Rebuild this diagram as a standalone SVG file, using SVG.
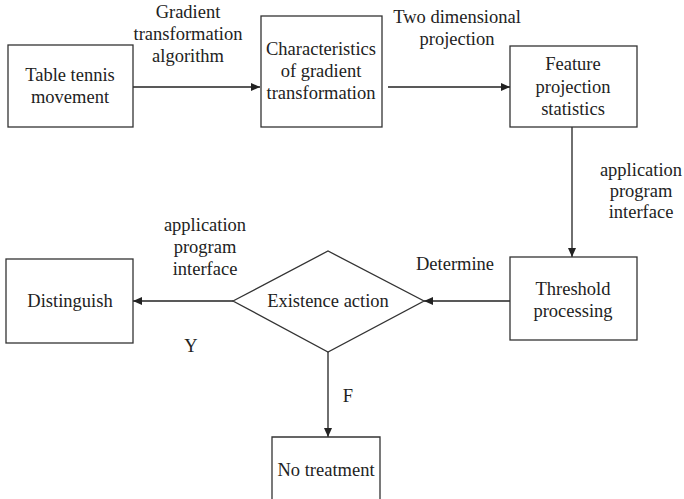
<svg xmlns="http://www.w3.org/2000/svg" width="684" height="499" viewBox="0 0 684 499" font-family="'Liberation Serif', 'DejaVu Serif', serif">
<style>
.box{fill:#fff;stroke:#333;stroke-width:1.3}
text{font-family:'Liberation Serif','DejaVu Serif',serif;font-size:18.5px;fill:#222;text-anchor:middle}
.c{stroke:#222;stroke-width:1.3;fill:none}
</style>
<defs>
<marker id="ah" markerWidth="10" markerHeight="8" refX="9" refY="4" orient="auto" markerUnits="userSpaceOnUse">
<path d="M0,0 L9,4 L0,8 Z" fill="#222"/>
</marker>
</defs>
<rect width="684" height="499" fill="#fff"/>
<g id="connectors">
<line class="c" x1="133" y1="87" x2="260" y2="87" marker-end="url(#ah)"/>
<line class="c" x1="388" y1="87" x2="510" y2="87" marker-end="url(#ah)"/>
<line class="c" x1="572" y1="127" x2="572" y2="257" marker-end="url(#ah)"/>
<line class="c" x1="510" y1="301" x2="424" y2="301" marker-end="url(#ah)"/>
<line class="c" x1="233" y1="301" x2="133" y2="301" marker-end="url(#ah)"/>
<line class="c" x1="328" y1="352" x2="328" y2="437" marker-end="url(#ah)"/>
<text x="188" y="18">Gradient</text>
<text x="188" y="40">transformation</text>
<text x="188" y="62">algorithm</text>
<text x="457" y="23">Two dimensional</text>
<text x="457" y="45">projection</text>
<text x="641" y="176">application</text>
<text x="641" y="197">program</text>
<text x="641" y="218">interface</text>
<text x="455" y="270">Determine</text>
<text x="205" y="231">application</text>
<text x="205" y="253">program</text>
<text x="205" y="275">interface</text>
<text x="191" y="352">Y</text>
<text x="348" y="402">F</text>
</g>
<g id="n1"><rect class="box" x="8" y="45" width="125" height="82"/>
<text x="70" y="81">Table tennis</text><text x="70" y="103">movement</text></g>
<g id="n2"><rect class="box" x="261" y="16" width="121" height="111"/>
<text x="321" y="55">Characteristics</text><text x="321" y="77">of gradient</text><text x="321" y="99">transformation</text></g>
<g id="n3"><rect class="box" x="510" y="46" width="127" height="81"/>
<text x="573" y="70">Feature</text><text x="573" y="93">projection</text><text x="573" y="115">statistics</text></g>
<g id="n4"><rect class="box" x="510" y="257" width="127" height="83"/>
<text x="573" y="295">Threshold</text><text x="573" y="317">processing</text></g>
<g id="n5"><polygon class="box" points="233,301 328,251 424,301 328,352"/>
<text x="328" y="307">Existence action</text></g>
<g id="n6"><rect class="box" x="6" y="259" width="127" height="84"/>
<text x="70" y="307">Distinguish</text></g>
<g id="n7"><path class="box" d="M272,505 L272,437 L380,437 L380,505"/>
<text x="326" y="476">No treatment</text></g>
</svg>
